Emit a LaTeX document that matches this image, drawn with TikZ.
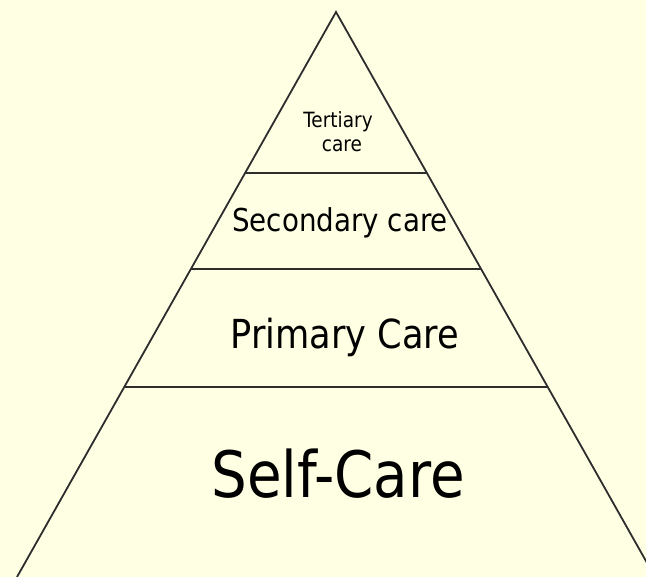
\documentclass[tikz,border=0pt]{standalone}
\usepackage{fontspec}
\usetikzlibrary{calc}
\newfontfamily\pyrfont[FakeStretch=0.88]{DejaVu Sans}
\definecolor{bgyellow}{RGB}{255,255,228}
\definecolor{linegray}{RGB}{45,45,45}
\tikzset{
  edge/.style={draw=linegray, line width=1.8pt},
  label/.style={inner sep=0pt, anchor=base, text=black},
}
\begin{document}
\begin{tikzpicture}[x=1pt,y=-1pt]
\fill[bgyellow] (0,0) rectangle (646,577);
\useasboundingbox (0,0) rectangle (646,577);
\clip (0,0) rectangle (646,577);
\coordinate (A) at (336,12);
\coordinate (L) at (17,577);
\coordinate (R) at (655,577);
\draw[edge, line join=miter] (L) -- (A) -- (R);
% level lines
\coordinate (l1) at ($(A)!{(173-12)/565}!(L)$);
\coordinate (r1) at ($(A)!{(173-12)/565}!(R)$);
\coordinate (l2) at ($(A)!{(269-12)/565}!(L)$);
\coordinate (r2) at ($(A)!{(269-12)/565}!(R)$);
\coordinate (l3) at ($(A)!{(387-12)/565}!(L)$);
\coordinate (r3) at ($(A)!{(387-12)/565}!(R)$);
\draw[edge] (l1) -- (r1);
\draw[edge] (l2) -- (r2);
\draw[edge] (l3) -- (r3);
% labels
\node[label, font=\pyrfont\fontsize{21}{24}\selectfont] (tert) at (338,128) {Tertiary};
\node[label, font=\pyrfont\fontsize{21}{24}\selectfont] (tertcare) at (342,152) {care};
\node[label, font=\pyrfont\fontsize{31.5}{36}\selectfont] (sec) at (340,232) {Secondary care};
\node[label, font=\pyrfont\fontsize{40}{46}\selectfont] (prim) at (345,349) {Primary Care};
\node[label, font=\pyrfont\fontsize{64}{70}\selectfont] (self) at (338,497) {Self-Care};
\end{tikzpicture}
\end{document}
